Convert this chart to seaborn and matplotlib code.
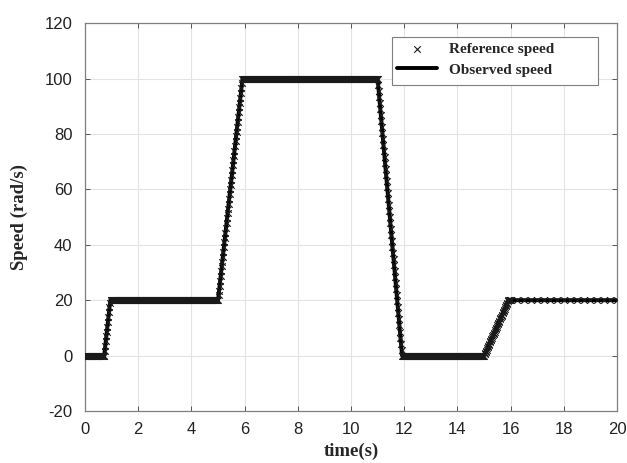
import numpy as np
import pandas as pd
import matplotlib
matplotlib.use("Agg")
import matplotlib.pyplot as plt
from matplotlib.patches import Rectangle
import seaborn as sns

# Breakpoints of the speed profile (time in s, speed in rad/s)
bp_time = [0.0, 0.72, 0.95, 5.0, 5.92, 11.0, 11.92, 15.0, 15.92, 20.0]
bp_speed = [0.0, 0.0, 20.0, 20.0, 100.0, 100.0, 0.0, 0.0, 20.0, 20.0]

# Sample instants of the reference signal markers
ref_time = np.concatenate([np.arange(0.0, 16.0, 0.02), np.arange(16.0, 20.01, 0.25)])
ref_speed = np.interp(ref_time, bp_time, bp_speed)

x_ticks = list(range(0, 21, 2))
y_ticks = list(range(-20, 121, 20))

sns.set_theme(style="white")
plt.rcParams['font.family'] = ['Liberation Sans', 'DejaVu Sans']
plt.rcParams['axes.unicode_minus'] = False

fig = plt.figure(figsize=(6.27, 4.63), dpi=100)
ax = fig.add_axes([0.1356, 0.1123, 0.8484, 0.8377])

obs = pd.DataFrame({"t": bp_time, "w": bp_speed})
ref = pd.DataFrame({"t": ref_time, "w": ref_speed})

sns.lineplot(data=obs, x="t", y="w", ax=ax, color="black", linewidth=2.8,
             label="Observed speed", zorder=3)
sns.scatterplot(data=ref, x="t", y="w", ax=ax, marker="x", s=22, color="#1a1a1a",
                linewidth=0.8, label="Reference speed", zorder=4)

ax.set_xlim(0, 20)
ax.set_ylim(-20, 120)
ax.set_xticks(x_ticks)
ax.set_yticks(y_ticks)
ax.grid(True, color="#e3e3e3", linewidth=0.8)
ax.set_axisbelow(True)
for s in ax.spines.values():
    s.set_color("#7f7f7f")
    s.set_linewidth(0.9)
ax.tick_params(axis="both", which="both", direction="in", length=3.5, width=0.7,
               color="#555555", top=True, right=True, bottom=True, left=True,
               labelsize=12, labelcolor="#222222")
ax.tick_params(axis="y", pad=9)
ax.tick_params(axis="x", pad=8)

ax.set_xlabel("time(s)", fontfamily="Liberation Serif", fontweight="bold",
              fontsize=13.5, labelpad=4)
ax.set_ylabel("Speed (rad/s)", fontfamily="Liberation Serif", fontweight="bold",
              fontsize=13.5, labelpad=12)

# legend box (MATLAB-style, wide frame)
box = Rectangle((0.577, 0.840), 0.387, 0.1237, transform=ax.transAxes,
                facecolor="white", edgecolor="#7f7f7f", linewidth=0.8, zorder=5)
ax.add_patch(box)

h, l = ax.get_legend_handles_labels()
order = [l.index("Reference speed"), l.index("Observed speed")]
leg = ax.legend([h[i] for i in order], [l[i] for i in order], loc="upper left",
                bbox_to_anchor=(0.577, 0.9639), borderaxespad=0, frameon=False,
                prop={"family": "Liberation Serif", "weight": "bold", "size": 11},
                handlelength=2.6, handletextpad=0.8, borderpad=0.35,
                labelspacing=0.45, markerscale=1.0)
leg.set_zorder(6)

fig.savefig("out.png", dpi=100)
